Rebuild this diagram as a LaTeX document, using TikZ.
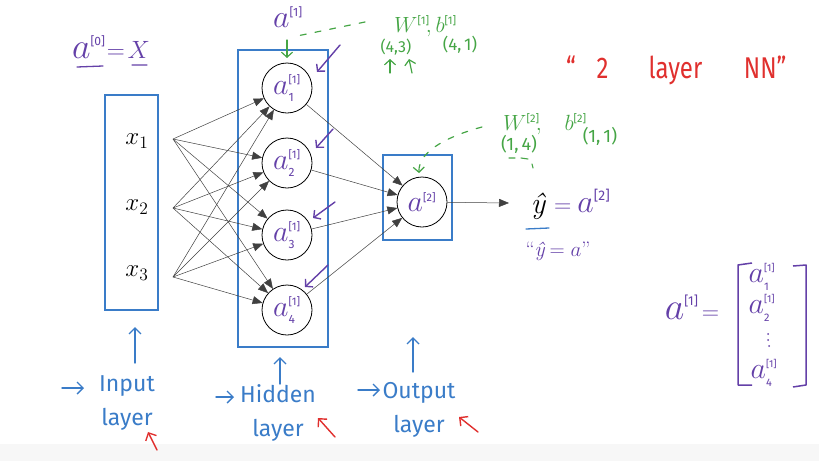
\RequirePackage{fix-cm}
\documentclass[tikz,border=0pt]{standalone}
\usepackage{amsmath}
\usepackage{fontspec}
\newfontfamily\hand{Fira Sans}
\usetikzlibrary{arrows.meta}
\definecolor{pur}{HTML}{6440A8}
\definecolor{nblue}{HTML}{3A7CC8}
\definecolor{ngreen}{HTML}{45A545}
\definecolor{nred}{HTML}{E0302E}
\newcommand\fs[1]{\fontsize{#1}{#1}\selectfont}
\newcommand\fss[2]{\fontsize{#1}{#2}\selectfont}
\newcommand\hs[2]{\text{\hand\fs{#1}#2}}
\newcommand\mv[2]{\scalebox{#1}{\fs{20}$#2$}}
\begin{document}
\begin{tikzpicture}[x=1pt,y=-1pt,
  box/.style={draw=nblue,line width=1.8pt,inner sep=0pt},
  neuron/.style={circle,draw=black,line width=0.8pt,minimum size=50pt,inner sep=0pt,text=pur,fill=white},
  conn/.style={draw=black!75,line width=0.5pt,-{Triangle[length=10pt,width=8pt]}},
  parr/.style={draw=pur,line width=1.4pt,line cap=round,-{Straight Barb[length=5pt,width=11pt]}},
  barr/.style={draw=nblue,line width=1.4pt,line cap=round,-{Straight Barb[length=6pt,width=12pt]}},
  rarr/.style={draw=nred,line width=1.4pt,line cap=round,-{Straight Barb[length=6pt,width=12pt]}},
  garr/.style={draw=ngreen,line width=1.2pt,line cap=round,-{Straight Barb[length=5pt,width=11pt]}},
  gdash/.style={draw=ngreen,line width=1.2pt,line cap=round,dash pattern=on 6pt off 9pt},
  lbl/.style={text=nblue,font={\hand\fss{23}{34}},align=center},
  gtxt/.style={text=ngreen,inner sep=0pt}
]
\useasboundingbox (0,0) rectangle (819,461);
\fill[black!3] (0,444) rectangle (819,461);

% layer boxes
\node[box,minimum width=53pt,minimum height=215pt] (inbox) at (131.5,202.5) {};
\node[box,minimum width=90pt,minimum height=297pt] (hidbox) at (283,198.5) {};
\node[box,minimum width=69pt,minimum height=85pt] (outbox) at (417.5,197.5) {};

% inputs
\node (x1) at (137,141) {\mv{1.25}{x_1}};
\node (x2) at (137,207) {\mv{1.25}{x_2}};
\node (x3) at (137,273) {\mv{1.25}{x_3}};
\coordinate (s1) at (173,139);
\coordinate (s2) at (173,208);
\coordinate (s3) at (173,277);

% neurons
\node[neuron] (h1) at (287,88)  {\mv{1.5}{a^{\hs{7.3}{[1]}}_{\hs{8}{1}}}};
\node[neuron] (h2) at (287,163) {\mv{1.5}{a^{\hs{7.3}{[1]}}_{\hs{8}{2}}}};
\node[neuron] (h3) at (287,235) {\mv{1.5}{a^{\hs{7.3}{[1]}}_{\hs{8}{3}}}};
\node[neuron] (h4) at (287,310) {\mv{1.5}{a^{\hs{7.3}{[1]}}_{\hs{8}{4}}}};
\node[neuron] (o)  at (422,202) {\mv{1.5}{a^{\hs{7.3}{[2]}}}};

\foreach \s in {s1,s2,s3}
  \foreach \h in {h1,h2,h3,h4}
    \draw[conn] (\s) -- (\h);
\foreach \h in {h1,h2,h3,h4}
  \draw[conn] (\h) -- (o);
\coordinate (yin) at (509,203);
\draw[conn] (o) -- (yin);

% output
\node[inner sep=0pt] (yhat) at (538,206) {\fs{30}\itshape ŷ};
\node[text=pur,anchor=base west,inner sep=0pt] (yeq) at (554,212) {\fs{24}$=$\hspace{6pt}\mv{1.6}{a^{\hs{8.7}{[2]}}}};
\draw[nblue,line width=1.3pt,line cap=round] (526,229) -- (549,228);
\node[text=pur,inner sep=0pt] (yq) at (558,251) {\fs{21}“{\itshape ŷ}\hspace{5pt}$=a$”};

% top labels
\node[text=pur] (atop) at (288,17) {\mv{1.6}{a^{\hs{7.5}{[1]}}}};
\node[text=pur] (a0) at (111,47) {\mv{1.8}{a^{\hs{6.7}{[0]}}}\hspace{1pt}\mv{1.25}{=\!X}};
\draw[pur,line width=1.3pt,line cap=round] (77,67) -- (103,66) (132,65) -- (147,65);

\node[text=ngreen,anchor=base west,inner sep=0pt] (W1) at (394,32) {\fs{22}$W^{\hs{11}{[1]}}\!, b^{\hs{11}{[1]}}$};
\node[gtxt] (d1) at (396,47) {\hand\fs{16}(4,3)};
\node[gtxt] (d2) at (460,45) {\hand\fs{17}(4,\,1)};
\draw[garr] (390,73) -- (390,59);
\draw[garr] (412,73) -- (409,59);
\coordinate (gw1) at (365,22);
\coordinate (gd1) at (297,36);
\draw[gdash] (gw1) -- (gd1);
\coordinate (ga1) at (287,40);
\coordinate (gb1) at (287,58);
\draw[garr] (ga1) -- (gb1);

\node[text=ngreen,anchor=base west,inner sep=0pt] (W2) at (503,130) {\fs{22}$W^{\hs{11}{[2]}}\!,\hspace{19pt} b^{\hs{11}{[2]}}$};
\node[gtxt] (d3) at (519,144) {\hand\fs{18}(1,\,4)};
\node[gtxt] (d4) at (600,136) {\hand\fs{18}(1,\,1)};
\draw[ngreen,line width=1.1pt,line cap=round] (509,158)--(515,158) (521,158)--(528,159) (532,164)--(533,168);
\coordinate (gw2) at (482,127);
\coordinate (go) at (419,173);
\draw[gdash,-{Straight Barb[length=5pt,width=11pt]}] (gw2) .. controls (452,135) and (418,150) .. (go);

% purple pointer arrows
\coordinate (pa1) at (340,45);  \coordinate (pb1) at (317,72);
\coordinate (pa2) at (333,129); \coordinate (pb2) at (316,148);
\coordinate (pa3) at (335,202); \coordinate (pb3) at (313,218);
\coordinate (pa4) at (328,265); \coordinate (pb4) at (305,287);
\foreach \i in {1,2,3,4} \draw[parr] (pa\i) -- (pb\i);

% title
\node[text=nred,anchor=base west,inner sep=0pt] (title) at (566,78) {\scalebox{0.8}[1]{\hand\fs{30}“\hspace{26pt}2\hspace{50pt}layer\hspace{52pt}NN”}};

% matrix
\node[text=pur] (mlhs) at (692,307) {\mv{1.9}{a^{\hs{6.8}{[1]}}}\hspace{3pt}\mv{1.2}{=}};
\node[text=pur,inner sep=0pt] (m1) at (762,277) {\mv{1.5}{a^{\hs{6.7}{[1]}}_{\hs{7.3}{1}}}};
\node[text=pur,inner sep=0pt] (m2) at (762,308) {\mv{1.5}{a^{\hs{6.7}{[1]}}_{\hs{7.3}{2}}}};
\node[text=pur,inner sep=0pt] (m4) at (764,373) {\mv{1.5}{a^{\hs{6.7}{[1]}}_{\hs{7.3}{4}}}};
\fill[pur] (768,334) circle (1pt) (768,340) circle (1pt) (769,346) circle (1pt);
\draw[pur,line width=1.5pt,line join=round] (752,263) -- (738,265) -- (738,385) -- (752,385);
\draw[pur,line width=1.5pt,line join=round] (793,266) -- (806,265) -- (806,385) -- (793,387);

% bottom labels
\node[lbl] (inlab) at (127,403) {Input\\layer};
\node[lbl] (hidlab) at (278,413) {Hidden\\layer};
\node[lbl] (outlab) at (419,410) {Output\\layer};
\coordinate (ia) at (135,363); \coordinate (ib) at (135,327);
\coordinate (ha) at (280,384); \coordinate (hb) at (280,357);
\coordinate (oa) at (413,372); \coordinate (ob) at (413,337);
\draw[barr] (ia) -- (ib);
\draw[barr] (ha) -- (hb);
\draw[barr] (oa) -- (ob);
\coordinate (ic) at (62,388); \coordinate (id) at (84,388);
\coordinate (hc) at (216,397); \coordinate (hd) at (234,397);
\coordinate (oc) at (358,390); \coordinate (od) at (380,390);
\draw[barr] (ic) -- (id);
\draw[barr] (hc) -- (hd);
\draw[barr] (oc) -- (od);
\coordinate (ra1) at (157,450); \coordinate (rb1) at (148,432);
\coordinate (ra2) at (335,437); \coordinate (rb2) at (318,418);
\coordinate (ra3) at (478,432); \coordinate (rb3) at (459,417);
\foreach \i in {1,2,3} \draw[rarr] (ra\i) -- (rb\i);
\end{tikzpicture}
\end{document}
